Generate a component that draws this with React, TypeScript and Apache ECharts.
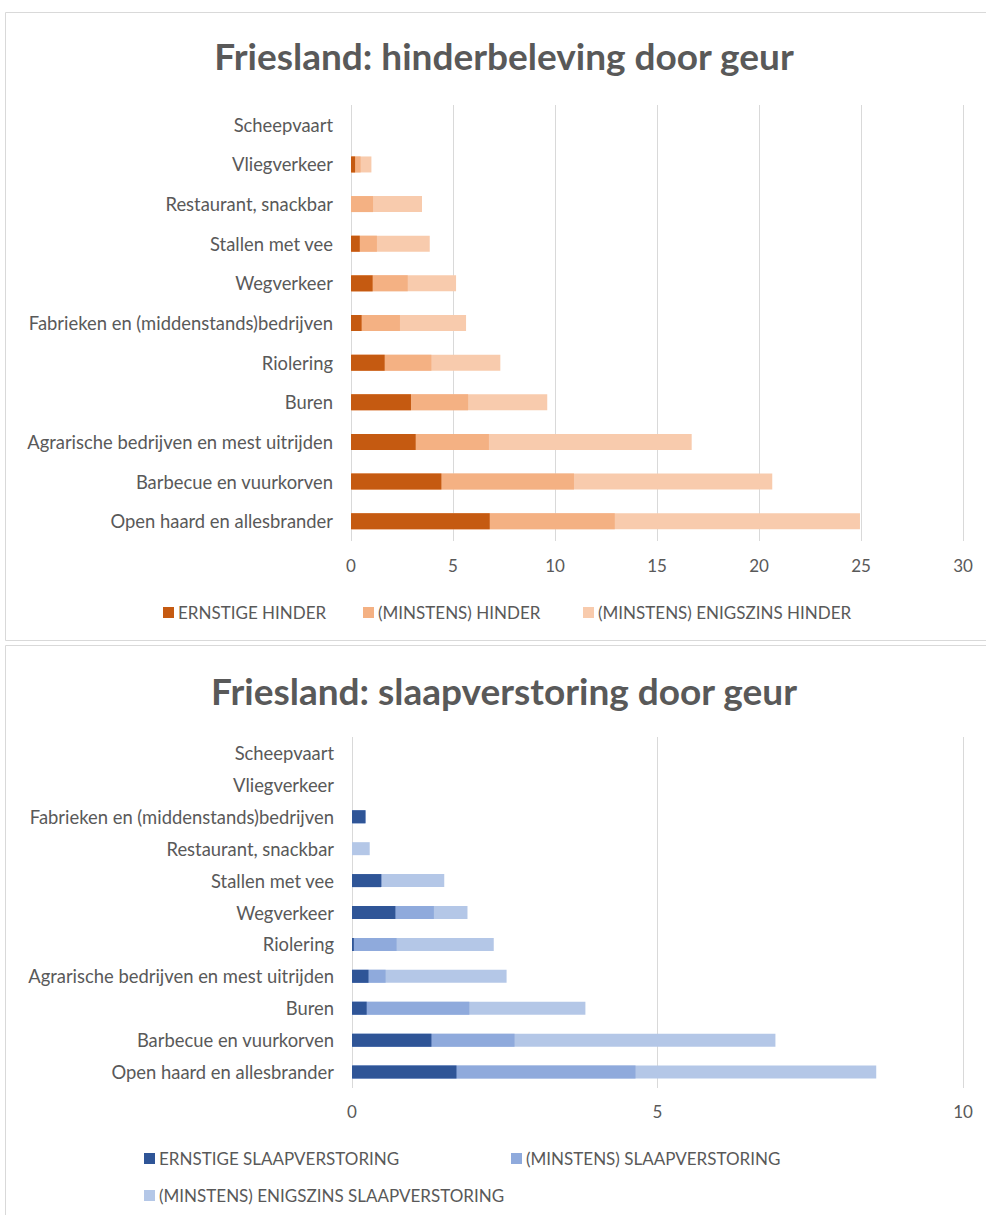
import React, { useEffect, useRef } from "react";
import * as echarts from "echarts";

const hinderCategories = [
  "Scheepvaart",
  "Vliegverkeer",
  "Restaurant, snackbar",
  "Stallen met vee",
  "Wegverkeer",
  "Fabrieken en (middenstands)bedrijven",
  "Riolering",
  "Buren",
  "Agrarische bedrijven en mest uitrijden",
  "Barbecue en vuurkorven",
  "Open haard en allesbrander",
];
const ernstigeHinder = [0, 0.2, 0, 0.43, 1.06, 0.52, 1.65, 2.94, 3.17, 4.43, 6.8];
const minstensHinder = [0, 0.47, 1.08, 1.27, 2.78, 2.4, 3.94, 5.74, 6.76, 10.93, 12.93];
const enigszinsHinder = [0, 1.0, 3.48, 3.86, 5.15, 5.64, 7.32, 9.62, 16.7, 20.65, 24.95];

const slaapCategories = [
  "Scheepvaart",
  "Vliegverkeer",
  "Fabrieken en (middenstands)bedrijven",
  "Restaurant, snackbar",
  "Stallen met vee",
  "Wegverkeer",
  "Riolering",
  "Agrarische bedrijven en mest uitrijden",
  "Buren",
  "Barbecue en vuurkorven",
  "Open haard en allesbrander",
];
const ernstigeSlaap = [0, 0, 0.22, 0, 0.48, 0.71, 0.03, 0.27, 0.24, 1.3, 1.71];
const minstensSlaap = [0, 0, 0.22, 0, 0.48, 1.34, 0.73, 0.55, 1.92, 2.66, 4.64];
const enigszinsSlaap = [0, 0, 0.22, 0.29, 1.51, 1.89, 2.32, 2.53, 3.82, 6.93, 8.58];

const hinderTicks = { min: 0, max: 30, interval: 5 };
const slaapTicks = { min: 0, max: 10, interval: 5 };

const TEXT = "#595959";
const GRIDLINE = "#D9D9D9";
const FONT = "Lato, 'Open Sans', sans-serif";

export default function App() {
  const ref = useRef<HTMLDivElement>(null);
  useEffect(() => {
    if (!ref.current) return;
    const chart = echarts.init(ref.current, undefined, { renderer: "svg" });

    const yAxisCommon = (cats: string[], gridIndex: number) => ({
      type: "category",
      gridIndex,
      data: cats,
      inverse: true,
      axisLine: { show: false },
      axisTick: { show: false },
      axisLabel: { color: TEXT, fontSize: 18.4, fontFamily: FONT, margin: 18 },
    });
    const xAxisCommon = (t: any, gridIndex: number, margin: number) => ({
      type: "value",
      gridIndex,
      min: t.min,
      max: t.max,
      interval: t.interval,
      axisLine: { show: false },
      axisTick: { show: false },
      splitLine: { show: true, lineStyle: { color: GRIDLINE, width: 1 } },
      axisLabel: { color: TEXT, fontSize: 17, fontFamily: FONT, margin },
    });
    const bar = (name: string, data: number[], idx: number, color: string, width: number) => ({
      name,
      type: "bar",
      xAxisIndex: idx,
      yAxisIndex: idx,
      data,
      barWidth: width,
      barGap: "-100%",
      itemStyle: { color },
    });

    const legendItem = (name: string, left: number, top: number) => ({
      data: [name],
      left,
      top,
      icon: "rect",
      itemWidth: 11,
      itemHeight: 11,
      itemGap: 6,
      selectedMode: false,
      textStyle: { color: TEXT, fontSize: 17, fontFamily: FONT, padding: [0, 0, 0, -1] },
    });

    const titleText = (text: string, y: number) => ({
      type: "text",
      x: 504,
      y,
      style: {
        text,
        fill: TEXT,
        fontSize: 37,
        fontWeight: "bold",
        fontFamily: FONT,
        align: "center",
        verticalAlign: "middle",
      },
    });

    chart.setOption({
      animation: false,
      backgroundColor: "#ffffff",
      graphic: [
        {
          type: "rect",
          shape: { x: 5.5, y: 12.5, width: 1000, height: 628 },
          style: { fill: "none", stroke: GRIDLINE, lineWidth: 1 },
          silent: true,
        },
        {
          type: "rect",
          shape: { x: 5.5, y: 645.5, width: 1000, height: 600 },
          style: { fill: "none", stroke: GRIDLINE, lineWidth: 1 },
          silent: true,
        },
        titleText("Friesland: hinderbeleving door geur", 55),
        titleText("Friesland: slaapverstoring door geur", 690),
      ],
      legend: [
        legendItem("ERNSTIGE HINDER", 158, 599),
        legendItem("(MINSTENS) HINDER", 358, 599),
        legendItem("(MINSTENS) ENIGSZINS HINDER", 578, 599),
        legendItem("ERNSTIGE SLAAPVERSTORING", 139, 1145),
        legendItem("(MINSTENS) SLAAPVERSTORING", 506, 1145),
        legendItem("(MINSTENS) ENIGSZINS SLAAPVERSTORING", 139, 1182),
      ],
      grid: [
        { left: 351, top: 105, width: 612, height: 436 },
        { left: 352, top: 737, width: 611, height: 351 },
      ],
      xAxis: [xAxisCommon(hinderTicks, 0, 16), xAxisCommon(slaapTicks, 1, 15)],
      yAxis: [yAxisCommon(hinderCategories, 0), yAxisCommon(slaapCategories, 1)],
      series: [
        bar("(MINSTENS) ENIGSZINS HINDER", enigszinsHinder, 0, "#F8CBAD", 16),
        bar("(MINSTENS) HINDER", minstensHinder, 0, "#F4B183", 16),
        bar("ERNSTIGE HINDER", ernstigeHinder, 0, "#C55A11", 16),
        bar("(MINSTENS) ENIGSZINS SLAAPVERSTORING", enigszinsSlaap, 1, "#B4C7E7", 13),
        bar("(MINSTENS) SLAAPVERSTORING", minstensSlaap, 1, "#8FAADC", 13),
        bar("ERNSTIGE SLAAPVERSTORING", ernstigeSlaap, 1, "#2F5597", 13),
      ],
    });
    return () => chart.dispose();
  }, []);
  return (
    <div
      ref={ref}
      style={{ position: "absolute", left: 0, top: 0, width: 986, height: 1215 }}
    />
  );
}
